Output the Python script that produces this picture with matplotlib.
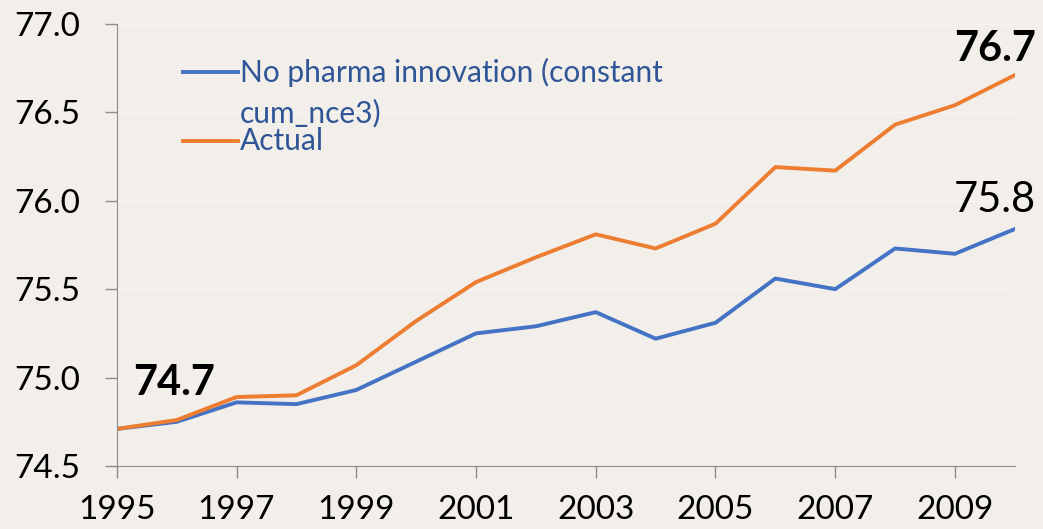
import matplotlib.pyplot as plt
from matplotlib.lines import Line2D

plt.rcParams['font.family'] = ['Lato', 'DejaVu Sans']

years = list(range(1995, 2011))
no_innovation = [74.71, 74.75, 74.86, 74.85, 74.93, 75.09, 75.25, 75.29,
                 75.37, 75.22, 75.31, 75.56, 75.50, 75.73, 75.70, 75.84]
actual = [74.71, 74.76, 74.89, 74.90, 75.07, 75.32, 75.54, 75.68,
          75.81, 75.73, 75.87, 76.19, 76.17, 76.43, 76.54, 76.71]
ytick_vals = [74.5, 75.0, 75.5, 76.0, 76.5, 77.0]
xtick_vals = [1995, 1997, 1999, 2001, 2003, 2005, 2007, 2009]
series_names = ['No pharma innovation (constant\ncum_nce3)', 'Actual']
colors = ['#4472C4', '#ED7D31']

bg = '#F2EEE9'
fig = plt.figure(figsize=(10.43, 5.29), dpi=100, facecolor=bg)
ax = fig.add_axes([0.112, 0.119, 0.861, 0.836], facecolor=bg)

ax.plot(years, no_innovation, color=colors[0], lw=2.8)
ax.plot(years, actual, color=colors[1], lw=2.8)

ax.set_xlim(1995, 2010)
ax.set_ylim(74.5, 77.0)
ax.set_xticks(xtick_vals)
ax.set_yticks(ytick_vals)
ax.set_yticklabels(['%.1f' % v for v in ytick_vals])
ax.yaxis.grid(True, color='#F7F5F2', lw=1)
ax.set_axisbelow(True)

for s in ['top', 'right']:
    ax.spines[s].set_visible(False)
for s in ['left', 'bottom']:
    ax.spines[s].set_color('#8C8C8C')
ax.tick_params(axis='both', colors='#8C8C8C', labelcolor='black',
               labelsize=24, length=8.5, width=1)
ax.tick_params(axis='x', pad=12.5)
ax.tick_params(axis='y', pad=18)

# legend drawn by hand so the handle sits on the first line of the wrapped label
W, H = 1043.0, 529.0
leg_rows = [72, 141]
for name, c, yp in zip(series_names, colors, leg_rows):
    fig.add_artist(Line2D([183 / W, 238 / W], [1 - yp / H, 1 - yp / H],
                          color=c, lw=2.8, transform=fig.transFigure))
    fig.text(240 / W, 1 - (yp - 14) / H, name, fontsize=21.5, color='#2F5597',
             ha='left', va='top', linespacing=1.5)

ax.annotate('%.1f' % actual[0], (years[0], actual[0]), xytext=(16, 34),
            textcoords='offset pixels', fontsize=30, fontweight='bold',
            ha='left', va='baseline')
ax.annotate('%.1f' % actual[-1], (years[-1], actual[-1]), xytext=(-20, 14),
            textcoords='offset pixels', fontsize=30, fontweight='bold',
            ha='center', va='baseline', annotation_clip=False)
ax.annotate('%.1f' % no_innovation[-1], (years[-1], no_innovation[-1]),
            xytext=(-20, 17), textcoords='offset pixels', fontsize=30,
            ha='center', va='baseline', annotation_clip=False)

fig.savefig('out.png', dpi=100, facecolor=bg)
